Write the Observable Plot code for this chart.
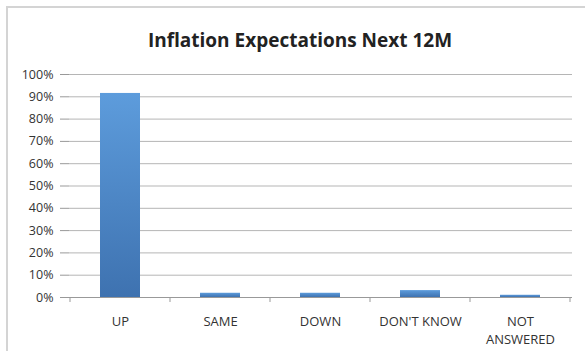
<!DOCTYPE html>
<html>
<head>
<meta charset="utf-8">
<script src="https://cdn.jsdelivr.net/npm/d3@7"></script>
<script src="https://cdn.jsdelivr.net/npm/@observablehq/plot@0.6"></script>
<style>
  html, body { margin: 0; padding: 0; background: #fff; }
  #wrap { position: relative; width: 585px; height: 351px; overflow: hidden; font-family: "Open Sans", Lato, sans-serif; }
  #border { position: absolute; left: 6px; top: 6px; width: 620px; height: 400px; border: 2px solid #d4d4d4; box-sizing: border-box; }
  #title { position: absolute; left: 0; width: 600px; top: 27px; text-align: center; font-size: 19px; font-weight: bold; color: #222; }
  #chart { position: absolute; left: 0; top: 0; }
</style>
</head>
<body>
<div id="wrap">
  <div id="border"></div>
  <div id="title">Inflation Expectations Next 12M</div>
  <div id="chart"></div>
</div>
<script>
const categories = ["UP", "SAME", "DOWN", "DON'T KNOW", "NOT\nANSWERED"];
const values = [0.915, 0.019, 0.019, 0.031, 0.01];
const yTicks = [0, 0.1, 0.2, 0.3, 0.4, 0.5, 0.6, 0.7, 0.8, 0.9, 1.0];

const data = categories.map((c, i) => ({category: c, value: values[i]}));

const gradientDefs = () => {
  const ns = "http://www.w3.org/2000/svg";
  const defs = document.createElementNS(ns, "defs");
  defs.innerHTML = `<linearGradient id="barGrad" x1="0" y1="0" x2="0" y2="1">
    <stop offset="0%" stop-color="#5d9cdc"/>
    <stop offset="100%" stop-color="#3e72b0"/>
  </linearGradient>`;
  return defs;
};

const bandTicks = (index, scales, values, dimensions) => {
  const g = d3.create("svg:g");
  const x = scales.x;
  const step = x.step ? x.step() : (dimensions.width - dimensions.marginLeft - dimensions.marginRight) / categories.length;
  const y0 = scales.y(0);
  const bounds = categories.map(c => x(c) - (step - x.bandwidth()) / 2);
  bounds.push(bounds[bounds.length - 1] + step);
  g.selectAll("line").data(bounds).join("line")
    .attr("x1", d => d).attr("x2", d => d)
    .attr("y1", y0).attr("y2", y0 + 5)
    .attr("stroke", "#999").attr("stroke-width", 1);
  return g.node();
};

const chart = Plot.plot({
  width: 585,
  height: 351,
  marginTop: 74,
  marginLeft: 69,
  marginRight: 13,
  marginBottom: 54,
  style: { fontFamily: "'Open Sans', Lato, sans-serif", fontSize: "13px", color: "#333", background: "transparent" },
  x: { domain: categories, paddingInner: 0.6, paddingOuter: 0.3, label: null },
  y: { domain: [0, 1], label: null },
  marks: [
    gradientDefs,
    Plot.gridY(yTicks, { stroke: "#b5b5b5", strokeOpacity: 1 }),
    Plot.axisY(yTicks, { tickFormat: d3.format(".0%"), tickSize: 9, tickPadding: 7, stroke: "#999", fontSize: 12.5, fill: "#333", label: null }),
    Plot.ruleX([0], { frameAnchor: "left", stroke: "#999" }),
    Plot.barY(data, { x: "category", y: "value", fill: "url(#barGrad)" }),
    Plot.ruleY([0], { stroke: "#999" }),
    bandTicks,
    Plot.axisX({ tickSize: 0, tickPadding: 16, fontSize: 13, fill: "#333", lineHeight: 1.35, label: null })
  ]
});

document.getElementById("chart").appendChild(chart);
</script>
</body>
</html>
